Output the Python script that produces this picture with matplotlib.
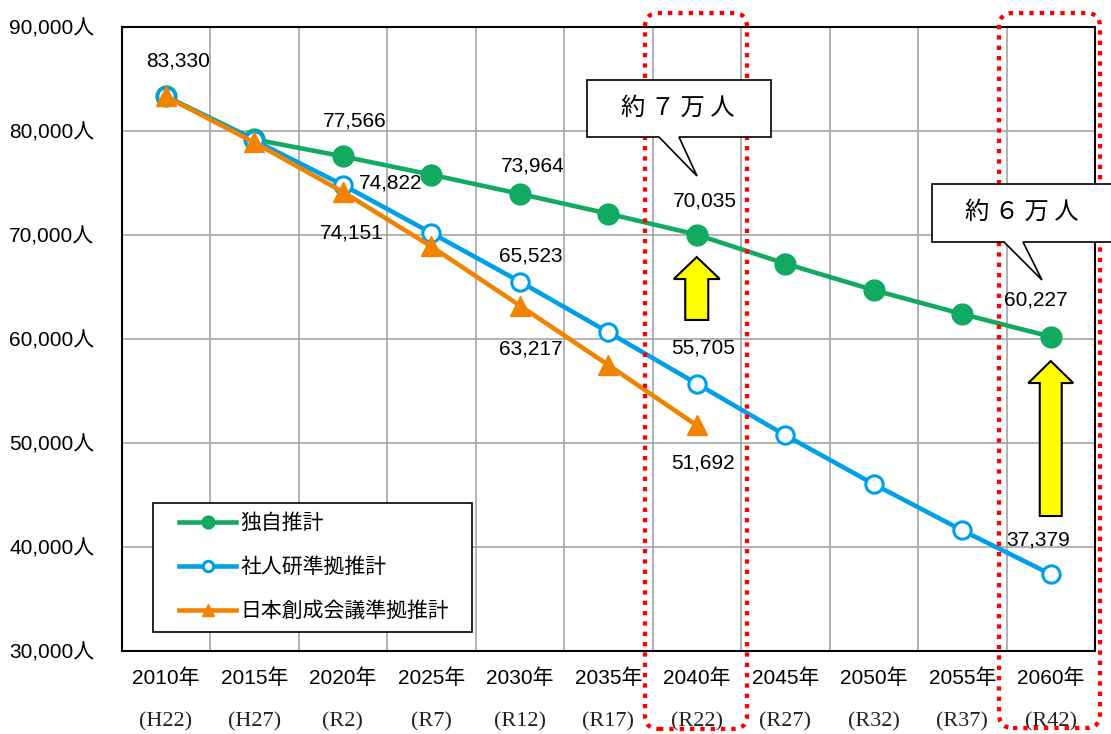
import matplotlib
matplotlib.use("Agg")
import numpy as np
import matplotlib.pyplot as plt
import matplotlib.transforms as mtransforms
from matplotlib.patches import FancyBboxPatch, Polygon, Rectangle
from matplotlib.ticker import FuncFormatter, MultipleLocator

plt.rcParams["font.family"] = ["Liberation Sans", "Noto Sans CJK JP", "DejaVu Sans"]

W, H = 1111, 734

years = ["2010年", "2015年", "2020年", "2025年", "2030年", "2035年",
         "2040年", "2045年", "2050年", "2055年", "2060年"]
eras = ["(H22)", "(H27)", "(R2)", "(R7)", "(R12)", "(R17)",
        "(R22)", "(R27)", "(R32)", "(R37)", "(R42)"]

names = ["独自推計", "社人研準拠推計", "日本創成会議準拠推計"]
dokuji = [83330, 79200, 77566, 75800, 73964, 72050, 70035, 67250, 64700, 62400, 60227]
shajinken = [83330, 79100, 74822, 70200, 65523, 60650, 55705, 50750, 46050, 41600, 37379]
sousei = [83330, 78900, 74151, 68900, 63217, 57500, 51692]

# which points get a value label: (series, index, dx px, dy px, ha)
value_labels = [
    (0, 0, 12, -35, "center"),
    (0, 2, 12, -35, "center"),
    (1, 2, 16, -2, "left"),
    (2, 2, 9, 41, "center"),
    (0, 4, 13, -28, "center"),
    (1, 4, 11, -26, "center"),
    (2, 4, 11, 43, "center"),
    (0, 6, 8, -34, "center"),
    (1, 6, 6, -36, "center"),
    (2, 6, 6, 38, "center"),
    (0, 10, -15, -37, "center"),
    (1, 10, -13, -34, "center"),
]

green = "#12A961"
blue = "#00A0E9"
orange = "#F08300"


def px(x, y):
    # pixel position (top-left origin) -> figure fraction
    return (x / W, 1 - y / H)


fig = plt.figure(figsize=(W / 100, H / 100), dpi=100)
ax = fig.add_axes([121.5 / W, 1 - 651 / H, (1095 - 121.5) / W, 624 / H])

x = np.arange(len(years))
series = [dokuji, shajinken, sousei]

l1, = ax.plot(x, dokuji, color=green, lw=3.3, marker="o", ms=14.5,
              mfc=green, mec=green, mew=1.5, zorder=3, label=names[0])
l2, = ax.plot(x, shajinken, color=blue, lw=3.3, marker="o", ms=12.5,
              mfc="white", mec=blue, mew=2.2, zorder=4, label=names[1])
l3, = ax.plot(x[:len(sousei)], sousei, color=orange, lw=3.3, marker="^",
              ms=14, mfc=orange, mec=orange, mew=1, zorder=5, label=names[2])

ax.set_xlim(-0.5, 10.5)
ax.set_ylim(30000, 90000)
ax.yaxis.set_major_locator(MultipleLocator(10000))
ax.yaxis.set_major_formatter(FuncFormatter(lambda v, p: f"{int(v):,}人"))
ax.set_xticks(x, years)
ax.set_xticks(np.arange(len(years) + 1) - 0.5, minor=True)
ax.grid(axis="y", which="major", color="#A6A6A6", lw=1.2)
ax.grid(axis="x", which="minor", color="#A6A6A6", lw=1.2)
ax.set_axisbelow(True)
ax.tick_params(which="both", length=0)
ax.tick_params(axis="y", labelsize=15, pad=19.5)
ax.tick_params(axis="x", labelsize=15, pad=19.5)
for lab in ax.get_xticklabels():
    lab.set_va("center")
for sp in ax.spines.values():
    sp.set_linewidth(1.5)
    sp.set_color("black")

trans = mtransforms.blended_transform_factory(ax.transData, ax.transAxes)
for i, era in enumerate(eras):
    ax.text(i, -0.1138, era, transform=trans, ha="center", va="center",
            fontsize=16, family=["Liberation Serif", "Noto Sans CJK JP"],
            color="#222222")

for s, i, dx, dy, ha in value_labels:
    v = series[s][i]
    ax.annotate(f"{v:,}", (i, v), xytext=(dx, -dy), textcoords="offset pixels",
                ha=ha, va="center", fontsize=15, zorder=6)

# legend: frame drawn separately so the handles sit where the original has them
frame = Rectangle(px(153, 632), 319 / W, 129 / H, transform=fig.transFigure,
                  facecolor="white", edgecolor="black", lw=1.2, zorder=6.5)
ax.add_patch(frame)
frame.set_clip_on(False)
leg = ax.legend(handles=[l1, l2, l3], loc="center left",
                bbox_to_anchor=px(179, 567.5), bbox_transform=fig.transFigure,
                frameon=False, borderpad=0, borderaxespad=0, fontsize=15,
                handlelength=2.75, handletextpad=0.2, labelspacing=1.17,
                markerscale=0.6)
leg.set_zorder(7)


# yellow arrows showing the gap
def up_arrow(xc, y0, y1, body=0.13, head=0.26, head_len=2115):
    pts = [(xc - body, y0), (xc + body, y0), (xc + body, y1 - head_len),
           (xc + head, y1 - head_len), (xc, y1), (xc - head, y1 - head_len),
           (xc - body, y1 - head_len)]
    ax.add_patch(Polygon(pts, closed=True, facecolor="#FFFF00",
                         edgecolor="black", lw=1.5, zorder=7, clip_on=False))


up_arrow(6, 61830, 67880)
up_arrow(10, 42980, 57880, body=0.124, head=0.254)

# red dotted frames around 2040 and 2060
for x0, x1, y0, y1 in [(645, 747, 13, 729), (999, 1100, 13, 728)]:
    box = FancyBboxPatch(px(x0, y1), (x1 - x0) / W, (y1 - y0) / H,
                         boxstyle=f"round,pad=0,rounding_size={14 / W}",
                         mutation_aspect=W / H, transform=fig.transFigure,
                         facecolor="none", edgecolor="#FF0000", lw=3.1,
                         ls=(0, (1, 1.4)), zorder=8, clip_on=False)
    ax.add_patch(box)

# speech-bubble callouts
callouts = [
    ("約 ７ 万 人", (587, 771, 80, 137), (659, 679), (697, 176), (678, 108)),
    ("約 ６ 万 人", (932, 1125, 184, 242), (1004, 1023), (1042, 280), (1022, 212)),
]
for text, (bx0, bx1, by0, by1), (p0, p1), tip, tc in callouts:
    pts = [px(bx0, by0), px(bx1, by0), px(bx1, by1), px(p1, by1), px(*tip),
           px(p0, by1), px(bx0, by1)]
    ax.add_patch(Polygon(pts, closed=True, transform=fig.transFigure,
                         facecolor="white", edgecolor="black", lw=1.2,
                         zorder=9, clip_on=False))
    fig.text(*px(*tc), text, ha="center", va="center", fontsize=17.5,
             family=["Noto Sans CJK JP"], zorder=10)

fig.savefig("out.png", dpi=100, facecolor="white")
